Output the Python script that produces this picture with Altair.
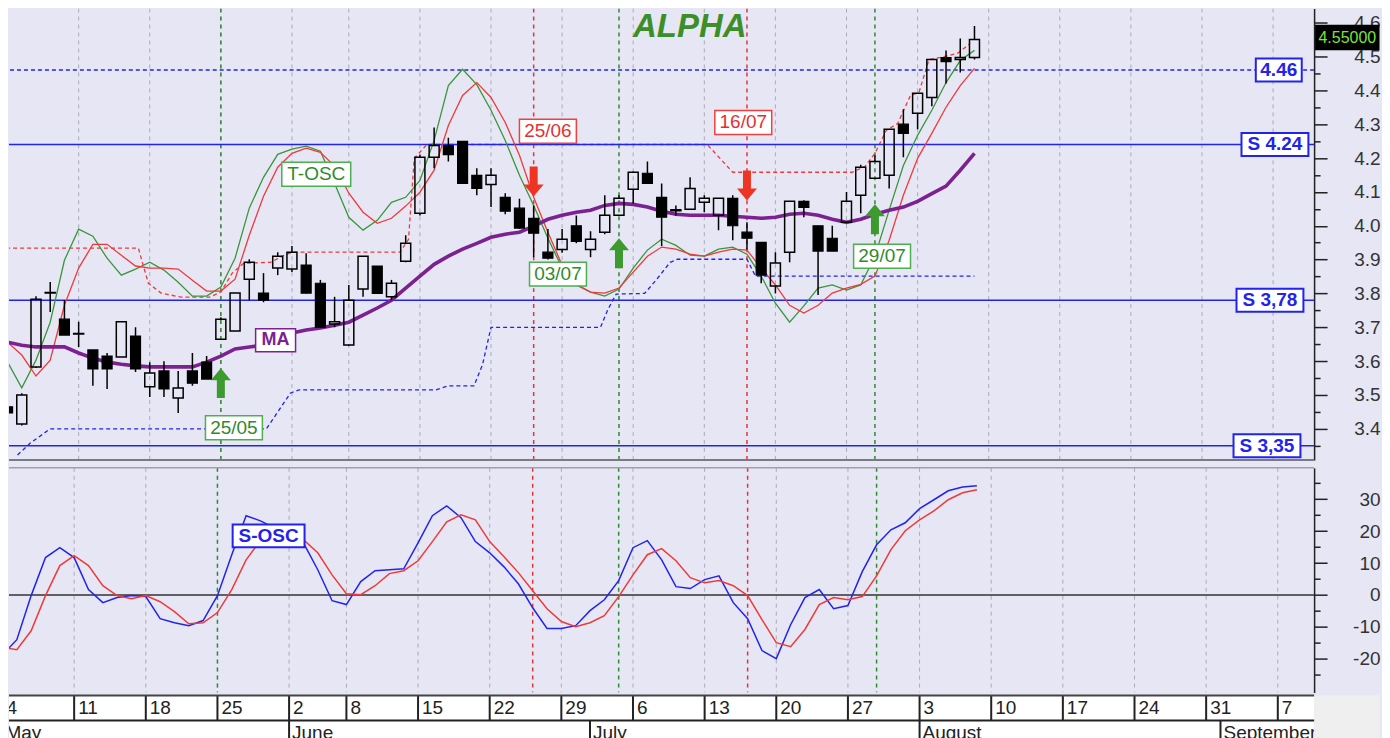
import altair as alt
import pandas as pd

FONT = "Liberation Sans"
BG = "#E6E6F5"
BLUE = "#2323EE"
GREEN = "#3A963A"
RED = "#F03A3A"
PURPLE = "#7B2290"
DGREEN = "#2F8A2F"

# ---------------- data (trading-day index 0 = Mon 4 May) ----------------
day = list(range(69))
open_ = [3.465, 3.414, 3.583, 3.801, 3.724, 3.680, 3.633, 3.615, 3.612, 3.674,
         3.524, 3.571, 3.491, 3.571, 3.597, 3.665, 3.689, 3.842, 3.801, 3.875,
         3.872, 3.884, 3.830, 3.710, 3.648, 3.813, 3.881, 3.790, 3.895, 4.037,
         4.202, 4.237, 4.249, 4.149, 4.122, 4.084, 4.052, 4.022, 3.922, 3.930,
         4.000, 3.930, 3.981, 4.031, 4.108, 4.155, 4.084, 4.044, 4.049, 4.069,
         4.031, 4.081, 3.981, 3.951, 3.822, 3.922, 4.072, 4.000, 3.963, 4.010,
         4.090, 4.140, 4.149, 4.300, 4.332, 4.379, 4.497, 4.491, 4.497]
high = [3.491, 3.505, 3.792, 3.834, 3.780, 3.716, 3.633, 3.624, 3.716, 3.700,
        3.597, 3.600, 3.571, 3.624, 3.615, 3.730, 3.801, 3.901, 3.860, 3.922,
        3.940, 3.919, 3.840, 3.790, 3.825, 3.910, 3.881, 3.840, 3.972, 4.210,
        4.290, 4.260, 4.250, 4.170, 4.170, 4.096, 4.080, 4.060, 3.990, 3.990,
        4.030, 3.984, 4.090, 4.090, 4.160, 4.190, 4.125, 4.060, 4.143, 4.090,
        4.081, 4.090, 4.010, 3.951, 3.922, 4.072, 4.075, 4.000, 4.000, 4.100,
        4.180, 4.208, 4.285, 4.344, 4.391, 4.491, 4.518, 4.553, 4.590]
low = [3.388, 3.410, 3.580, 3.745, 3.677, 3.642, 3.527, 3.518, 3.612, 3.568,
       3.494, 3.494, 3.447, 3.527, 3.547, 3.665, 3.689, 3.780, 3.774, 3.854,
       3.863, 3.800, 3.700, 3.700, 3.645, 3.790, 3.800, 3.780, 3.892, 4.030,
       4.170, 4.190, 4.125, 4.090, 4.055, 4.034, 3.990, 3.907, 3.900, 3.920,
       3.948, 3.907, 3.975, 4.030, 4.066, 4.125, 3.940, 4.030, 4.049, 4.040,
       3.987, 3.957, 3.930, 3.830, 3.800, 3.892, 4.025, 3.795, 3.925, 4.010,
       4.037, 4.140, 4.110, 4.202, 4.285, 4.353, 4.420, 4.453, 4.491]
close = [3.447, 3.500, 3.783, 3.803, 3.677, 3.682, 3.577, 3.577, 3.716, 3.577,
         3.565, 3.518, 3.521, 3.535, 3.547, 3.724, 3.801, 3.892, 3.780, 3.910,
         3.922, 3.801, 3.700, 3.716, 3.780, 3.910, 3.800, 3.830, 3.948, 4.202,
         4.237, 4.210, 4.125, 4.110, 4.149, 4.043, 3.993, 3.978, 3.904, 3.960,
         3.954, 3.960, 4.031, 4.081, 4.158, 4.125, 4.025, 4.047, 4.110, 4.081,
         4.081, 4.000, 3.963, 3.854, 3.890, 4.072, 4.054, 3.925, 3.925, 4.072,
         4.173, 4.190, 4.285, 4.273, 4.391, 4.491, 4.485, 4.497, 4.550]

t_osc_fast = [3.597, 3.521, 3.603, 3.715, 3.898, 3.990, 3.969, 3.904, 3.854, 3.872,
              3.892, 3.869, 3.833, 3.792, 3.792, 3.819, 3.904, 4.052, 4.143, 4.211,
              4.226, 4.235, 4.220, 4.125, 4.025, 3.987, 4.016, 4.069, 4.084, 4.134,
              4.252, 4.414, 4.462, 4.417, 4.341, 4.252, 4.149, 4.060, 3.963, 3.875,
              3.827, 3.804, 3.792, 3.813, 3.875, 3.928, 3.960, 3.942, 3.913, 3.910,
              3.931, 3.937, 3.916, 3.851, 3.771, 3.715, 3.763, 3.816, 3.825, 3.810,
              3.825, 3.910, 4.046, 4.178, 4.267, 4.341, 4.423, 4.488, 4.518]
t_osc_slow = [3.656, 3.618, 3.556, 3.603, 3.765, 3.875, 3.945, 3.945, 3.913, 3.881,
              3.875, 3.875, 3.872, 3.839, 3.807, 3.807, 3.842, 3.972, 4.087, 4.173,
              4.214, 4.229, 4.217, 4.176, 4.096, 4.040, 4.007, 4.022, 4.058, 4.099,
              4.164, 4.296, 4.385, 4.423, 4.379, 4.305, 4.208, 4.084, 3.981, 3.883,
              3.825, 3.804, 3.801, 3.816, 3.863, 3.910, 3.937, 3.931, 3.916, 3.910,
              3.922, 3.931, 3.928, 3.875, 3.825, 3.765, 3.742, 3.765, 3.801, 3.816,
              3.827, 3.851, 3.957, 4.090, 4.199, 4.273, 4.350, 4.414, 4.465]
ma = [3.656, 3.647, 3.642, 3.642, 3.642, 3.624, 3.609, 3.597, 3.591, 3.586,
      3.583, 3.583, 3.583, 3.583, 3.597, 3.615, 3.636, 3.642, 3.647, 3.668,
      3.683, 3.692, 3.698, 3.706, 3.715, 3.736, 3.757, 3.780, 3.816, 3.851,
      3.886, 3.910, 3.931, 3.948, 3.966, 3.975, 3.981, 3.999, 4.019, 4.031,
      4.040, 4.046, 4.060, 4.066, 4.063, 4.055, 4.043, 4.034, 4.031, 4.031,
      4.031, 4.028, 4.025, 4.022, 4.025, 4.034, 4.037, 4.031, 4.019, 4.010,
      4.019, 4.034, 4.046, 4.055, 4.072, 4.095, 4.117, 4.164, 4.214]

s_osc_fast = [-18.7, -14.0, -0.2, 11.7, 14.8, 11.7, 1.7, -2.4, -0.8, -0.2,
              -0.5, -7.4, -8.7, -9.6, -8.0, -0.2, 12.6, 24.8, 23.2, 21.0,
              18.8, 16.3, 7.9, -1.8, -3.0, 4.2, 7.6, 7.9, 8.2, 16.3,
              24.8, 27.9, 24.2, 16.7, 13.2, 8.8, 3.5, -4.0, -10.5, -10.5,
              -9.6, -4.9, -1.5, 4.5, 14.8, 17.0, 11.0, 2.6, 2.0, 4.8,
              6.0, -2.4, -7.4, -17.4, -19.9, -9.3, -0.8, 1.7, -4.3, -3.3,
              7.3, 15.7, 20.4, 22.6, 27.0, 29.8, 32.6, 33.8, 34.2]
s_osc_slow = [-16.4, -17.1, -11.2, -0.2, 9.2, 12.3, 9.2, 2.9, -0.2, -1.2,
              -0.2, -2.1, -5.2, -9.0, -8.7, -5.5, 1.7, 11.0, 17.0, 19.5,
              18.8, 17.3, 13.2, 6.3, 0.4, 0.1, 2.9, 6.7, 7.6, 10.7,
              16.7, 22.9, 25.1, 23.5, 16.7, 12.0, 7.0, 1.3, -4.3, -8.3,
              -9.9, -8.7, -6.5, -0.5, 6.3, 12.6, 14.5, 10.7, 5.4, 3.8,
              4.5, 2.9, -0.2, -7.7, -14.9, -16.2, -10.8, -3.0, -0.8, -1.5,
              -0.5, 6.0, 14.2, 20.1, 23.5, 26.3, 29.8, 32.0, 32.9]

# trailing stop lines (day index, price)
red_stop_i = [-0.1, 9.2, 9.5, 9.9, 10.8, 12.2, 14.2, 15.0, 15.8, 16.6, 18.5, 19.6, 20.2,
              27.6, 28.2, 28.6, 29.5, 49.2, 51.0, 59.0, 59.4, 60.3, 61.0, 61.8, 62.6,
              63.5, 64.1, 64.8, 65.6, 66.8, 67.7]
red_stop_v = [3.934, 3.934, 3.889, 3.830, 3.801, 3.789, 3.789, 3.804, 3.860, 3.889, 3.892, 3.916, 3.922,
              3.922, 3.960, 4.199, 4.240, 4.240, 4.158, 4.158, 4.158, 4.175, 4.214, 4.282, 4.302,
              4.385, 4.394, 4.491, 4.497, 4.509, 4.538]
blue_stop_i = [0.7, 1.6, 3.0, 18.2, 19.1, 19.9, 20.5, 30.1, 31.0, 32.8, 33.4, 34.0, 41.7,
               42.2, 42.8, 44.8, 45.6, 46.6, 47.1, 52.0, 52.6, 68.0]
blue_stop_v = [3.323, 3.358, 3.400, 3.400, 3.456, 3.506, 3.515, 3.515, 3.527, 3.527, 3.589, 3.700, 3.700,
               3.751, 3.798, 3.800, 3.839, 3.892, 3.901, 3.901, 3.851, 3.851]

week_idx = [0, 5, 10, 15, 20, 24, 29, 34, 39, 44, 49, 54, 59, 64, 69, 74, 79, 84, 89]
week_lbl = ["4", "11", "18", "25", "2", "8", "15", "22", "29", "6", "13", "20", "27",
            "3", "10", "17", "24", "31", "7"]
month_idx = [0, 20, 41, 64, 85]
month_lbl = ["May", "June", "July", "August", "September"]

buy_idx = [15, 43, 61]
buy_lbl = ["25/05", "03/07", "29/07"]
buy_lbl_i = [15.92, 38.71, 61.5]
buy_lbl_v = [3.403, 3.857, 3.910]
buy_arrow_v = [3.535, 3.919, 4.019]
sell_idx = [37, 52]
sell_lbl = ["25/06", "16/07"]
sell_lbl_i = [38.0, 51.74]
sell_lbl_v = [4.279, 4.305]
sell_arrow_v = [4.131, 4.119]

support_v = [4.24, 3.78, 3.35]
support_lbl = ["S 4.24", "S 3,78", "S 3,35"]
support_lbl_i = [89.13, 88.78, 88.57]
target_v = [4.46]
target_lbl = ["4.46"]
target_lbl_i = [89.4]
last_lbl = ["4.55000"]
last_v = [4.556]
last_i = [94.22]

price_ticks = [3.35, 3.4, 3.45, 3.5, 3.55, 3.6, 3.65, 3.7, 3.75, 3.8, 3.85, 3.9, 3.95,
               4.0, 4.05, 4.1, 4.15, 4.2, 4.25, 4.3, 4.35, 4.4, 4.45, 4.5, 4.55, 4.6]
osc_ticks = [-25, -20, -15, -10, -5, 0, 5, 10, 15, 20, 25, 30, 35]

# ---------------- scales / axes ----------------
W = 1307
xsc = alt.Scale(domain=[0.453, 91.533], nice=False, zero=False)
psc = alt.Scale(domain=[3.3083, 4.6416], nice=False, zero=False)
osc_sc = alt.Scale(domain=[-30.53, 39.78], nice=False, zero=False)

P_MAJOR = "abs(datum.value*10 - round(datum.value*10)) < 0.001"
O_MAJOR = "datum.value % 10 == 0"

price_axis = alt.Axis(
    orient="right", values=price_ticks, title=None, grid=False,
    domainColor="#222", domainWidth=1.5, tickColor="#222", tickWidth=1.5,
    tickSize={"condition": {"test": P_MAJOR, "value": 13}, "value": 6},
    labelExpr=f"({P_MAJOR}) ? format(datum.value, '.1f') : ''",
    labelAlign="right", labelPadding=53, labelFont=FONT, labelFontSize=19,
    labelColor="#333", labelOverlap=False, labelBound=False, labelFlush=False)
osc_axis = alt.Axis(
    orient="right", values=osc_ticks, title=None, grid=False,
    domainColor="#222", domainWidth=1.5, tickColor="#222", tickWidth=1.5,
    tickSize={"condition": {"test": O_MAJOR, "value": 13}, "value": 6},
    labelExpr=f"({O_MAJOR}) ? '' + datum.value : ''",
    labelAlign="right", labelPadding=53, labelFont=FONT, labelFontSize=19,
    labelColor="#333", labelOverlap=False, labelBound=False, labelFlush=False)


def px(f="i"):
    return alt.X(f"{f}:Q", scale=xsc, axis=None)


def py(f):
    return alt.Y(f"{f}:Q", scale=psc, axis=price_axis)


def oy(f):
    return alt.Y(f"{f}:Q", scale=osc_sc, axis=osc_axis)


def rect_path(w, h):
    return f"M{-w/2},{-h/2}L{w/2},{-h/2}L{w/2},{h/2}L{-w/2},{h/2}Z"


UP_ARROW = "M-4,15L4,15L4,-3L10,-3L0,-15L-10,-3L-4,-3Z"
DOWN_ARROW = "M-4,-15L4,-15L4,3L10,3L0,15L-10,3L-4,3Z"


def box(df, w, h, stroke, yf, fill="white", sw=1.5):
    return alt.Chart(df).mark_point(
        shape=rect_path(w, h), size=4, filled=True, fill=fill, stroke=stroke,
        strokeWidth=sw, opacity=1).encode(x=px(), y=yf("v"))


def label(df, color, yf, size=19, weight="normal"):
    return alt.Chart(df).mark_text(
        font=FONT, fontSize=size, fontWeight=weight, color=color,
        align="center", baseline="middle").encode(x=px(), y=yf("v"), text="t:N")


def line(df, field, color, width, yf, dash=None):
    kw = dict(color=color, strokeWidth=width, clip=True)
    if dash:
        kw["strokeDash"] = dash
    return alt.Chart(df).mark_line(**kw).encode(x=px(), y=yf(field))


# ---------------- frames ----------------
cdf = pd.DataFrame({"i": day, "o": open_, "h": high, "l": low, "c": close})
cdf["top"] = cdf[["o", "c"]].max(axis=1)
cdf["bot"] = cdf[["o", "c"]].min(axis=1)
up_df = cdf[cdf["c"] >= cdf["o"]]
dn_df = cdf[cdf["c"] < cdf["o"]]

ind = pd.DataFrame({"i": day, "fast": t_osc_fast, "slow": t_osc_slow, "ma": ma,
                    "sf": s_osc_fast, "ss": s_osc_slow})
red_stop = pd.DataFrame({"i": red_stop_i, "v": red_stop_v})
blue_stop = pd.DataFrame({"i": blue_stop_i, "v": blue_stop_v})
weeks = pd.DataFrame({"i": week_idx, "t": week_lbl})
months = pd.DataFrame({"i": month_idx, "t": month_lbl})
buys = pd.DataFrame({"i": buy_idx, "v": buy_arrow_v})
sells = pd.DataFrame({"i": sell_idx, "v": sell_arrow_v})
buy_l = pd.DataFrame({"i": buy_lbl_i, "v": buy_lbl_v, "t": buy_lbl})
sell_l = pd.DataFrame({"i": sell_lbl_i, "v": sell_lbl_v, "t": sell_lbl})
sup = pd.DataFrame({"v": support_v})
sup_l = pd.DataFrame({"i": support_lbl_i, "v": support_v, "t": support_lbl})
tgt = pd.DataFrame({"v": target_v})
tgt_l = pd.DataFrame({"i": target_lbl_i, "v": target_v, "t": target_lbl})
last_l = pd.DataFrame({"i": last_i, "v": last_v, "t": last_lbl})
tosc_l = pd.DataFrame({"i": [21.71], "v": [4.152], "t": ["T-OSC"]})
ma_l = pd.DataFrame({"i": [18.85], "v": [3.662], "t": ["MA"]})
sosc_l = pd.DataFrame({"i": [18.57], "v": [18.5], "t": ["S-OSC"]})
title_l = pd.DataFrame({"i": [47.98], "v": [4.586], "t": ["ALPHA"]})
zero = pd.DataFrame({"v": [0]})
one = pd.DataFrame({"k": [0]})

# ---------------- common vertical rules ----------------
grid = alt.Chart(weeks).mark_rule(color="#ABABB8", strokeDash=[4, 4], strokeWidth=1,
                                  clip=True).encode(x=px())
sig_buy = alt.Chart(pd.DataFrame({"i": buy_idx})).mark_rule(
    color=DGREEN, strokeDash=[4, 4], strokeWidth=1.5, clip=True).encode(x=px())
sig_sell = alt.Chart(pd.DataFrame({"i": sell_idx})).mark_rule(
    color="#E53535", strokeDash=[4, 4], strokeWidth=1.5, clip=True).encode(x=px())

# ---------------- price panel ----------------
price = alt.layer(
    grid, sig_buy, sig_sell,
    line(blue_stop, "v", BLUE, 1.3, py, dash=[4, 3]),
    line(red_stop, "v", RED, 1.3, py, dash=[4, 3]),
    alt.Chart(sup).mark_rule(color=BLUE, strokeWidth=1.5).encode(y=py("v")),
    alt.Chart(tgt).mark_rule(color=BLUE, strokeWidth=1.5, strokeDash=[4, 3]).encode(y=py("v")),
    line(ind, "fast", GREEN, 1.3, py),
    line(ind, "slow", RED, 1.3, py),
    line(ind, "ma", PURPLE, 3.6, py),
    alt.Chart(cdf).mark_rule(color="black", strokeWidth=1.5, clip=True).encode(
        x=px(), y=py("h"), y2="top"),
    alt.Chart(cdf).mark_rule(color="black", strokeWidth=1.5, clip=True).encode(
        x=px(), y=py("bot"), y2="l"),
    alt.Chart(dn_df).mark_bar(width=10, color="black", stroke="black", strokeWidth=1.2,
                              clip=True).encode(x=px(), y=py("top"), y2="bot"),
    alt.Chart(up_df).mark_bar(width=10, fill="white", fillOpacity=0, stroke="black",
                              strokeWidth=1.5, clip=True).encode(x=px(), y=py("top"), y2="bot"),
    alt.Chart(buys).mark_point(shape=UP_ARROW, size=4, filled=True, color="#3C9A2E",
                               opacity=1).encode(x=px(), y=py("v")),
    alt.Chart(sells).mark_point(shape=DOWN_ARROW, size=4, filled=True, color="#EE3524",
                                opacity=1).encode(x=px(), y=py("v")),
    box(buy_l, 57, 24, "#4CAF50", py), label(buy_l, DGREEN, py),
    box(sell_l, 57, 24, "#F04040", py), label(sell_l, "#E53030", py),
    box(tosc_l, 69, 24, "#4CAF50", py), label(tosc_l, DGREEN, py),
    box(ma_l, 40, 23, PURPLE, py), label(ma_l, PURPLE, py, size=18, weight="bold"),
    box(tgt_l, 46, 23, BLUE, py, sw=2), label(tgt_l, BLUE, py, weight="bold"),
    box(sup_l, 67, 23, BLUE, py, sw=2), label(sup_l, BLUE, py, weight="bold"),
    box(last_l, 63, 24, "black", py, fill="black"), label(last_l, "#7FE23A", py, size=16),
    alt.Chart(title_l).mark_text(font=FONT, fontSize=33, fontWeight="bold", fontStyle="italic",
                                 color="#3C8F28", align="center", baseline="middle").encode(
        x=px(), y=py("v"), text="t:N"),
    alt.Chart(one).mark_rule(color="#7A7A85", strokeWidth=2).encode(y=alt.value(452)),
).properties(width=W, height=452)

# ---------------- oscillator panel ----------------
osc = alt.layer(
    grid, sig_buy, sig_sell,
    alt.Chart(zero).mark_rule(color="#333", strokeWidth=1.5).encode(y=oy("v")),
    line(ind, "sf", BLUE, 1.5, oy),
    line(ind, "ss", RED, 1.5, oy),
    box(sosc_l, 72, 23, BLUE, oy, sw=2), label(sosc_l, BLUE, oy, weight="bold"),
    alt.Chart(one).mark_rule(color="#A0A0AA", strokeWidth=1.5).encode(y=alt.value(0)),
).properties(width=W, height=225)

# ---------------- date band ----------------
dates = alt.layer(
    alt.Chart(one).mark_rect(color="#EFEFEF").encode(
        x=alt.value(W), x2=alt.value(1373), y=alt.value(0), y2=alt.value(50)),
    alt.Chart(weeks).mark_rule(color="#222", strokeWidth=2, clip=True).encode(
        x=px(), y=alt.value(0), y2=alt.value(25)),
    alt.Chart(months).mark_rule(color="#222", strokeWidth=2, clip=True).encode(
        x=px(), y=alt.value(25), y2=alt.value(50)),
    alt.Chart(one).mark_rule(color="#222", strokeWidth=2).encode(y=alt.value(25)),
    alt.Chart(one).mark_rule(color="#444", strokeWidth=2).encode(y=alt.value(0)),
    alt.Chart(weeks).mark_text(font=FONT, fontSize=19, color="#222", align="left",
                               baseline="middle", dx=4, clip=True).encode(
        x=px(), y=alt.value(12.5), text="t:N"),
    alt.Chart(months).mark_text(font=FONT, fontSize=19, color="#222", align="left",
                                baseline="middle", dx=3, clip=True).encode(
        x=px(), y=alt.value(37.5), text="t:N"),
).properties(width=W, height=50,
             view=alt.ViewBackground(fill="white", strokeWidth=0))

chart = alt.vconcat(
    price, alt.vconcat(osc, dates, spacing=2), spacing=5
).properties(
    background=BG,
    padding=0,
).configure_view(fill=BG, strokeWidth=0)

chart.save("out.html", embed_options={"renderer": "svg", "actions": False})
